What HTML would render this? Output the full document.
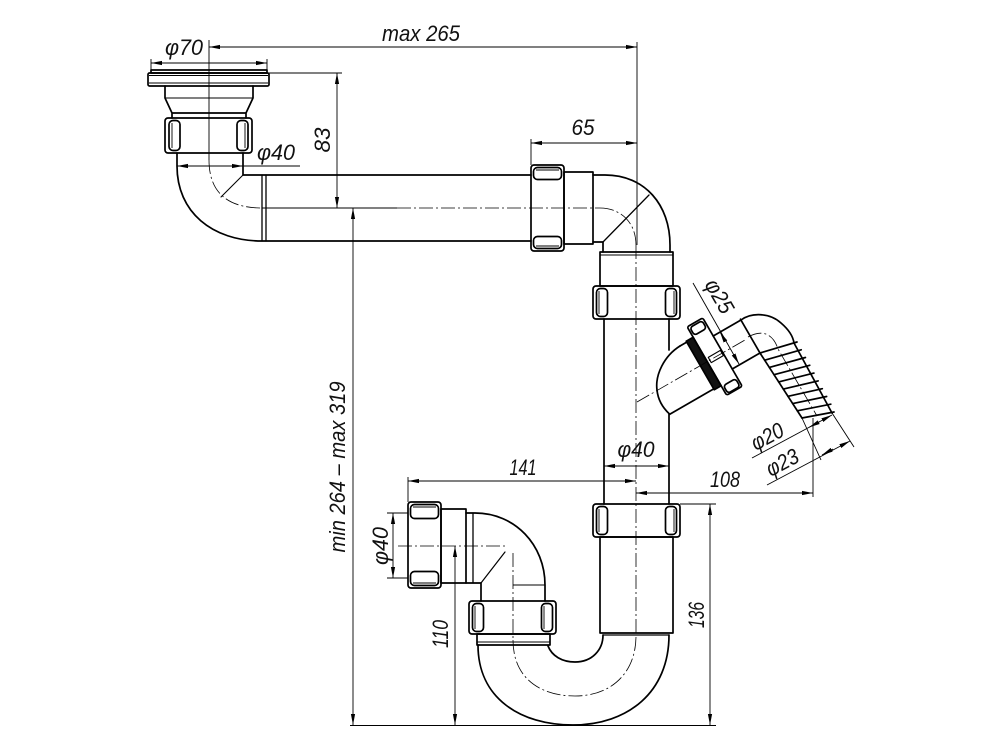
<!DOCTYPE html>
<html><head><meta charset="utf-8"><title>Siphon drawing</title>
<style>
html,body{margin:0;padding:0;background:#fff;width:1000px;height:750px;overflow:hidden}
svg{display:block}
text{font-family:"Liberation Sans",sans-serif;font-style:italic;font-size:22px;fill:#111;stroke:none}
</style></head><body>
<svg width="1000" height="750" viewBox="0 0 1000 750" xmlns="http://www.w3.org/2000/svg">
<defs>
<marker id="a" markerWidth="12" markerHeight="6" refX="11" refY="3" orient="auto-start-reverse" markerUnits="userSpaceOnUse"><path d="M0,0.9 L11,3 L0,5.1 z" fill="#000" stroke="none"/></marker>
</defs>
<rect width="1000" height="750" fill="#fff"/>

<!-- MAIN OUTLINES -->
<g fill="none" stroke="#000" stroke-width="1.7" stroke-linejoin="round" stroke-linecap="round">
<!-- drain flange -->
<rect x="151" y="70" width="116" height="3"/>
<rect x="148" y="73" width="121" height="13" rx="1.5"/>
<path d="M165,86 V98 L172,113 V118 M253,86 V98 L246,113 V118 M172,113 H246"/>
<!-- drain nut -->
<rect x="165" y="118" width="87" height="35" rx="3"/>
<rect x="169" y="120.5" width="11" height="30" rx="4"/>
<rect x="237" y="120.5" width="11" height="30" rx="4"/>
<!-- drain elbow + horizontal pipe -->
<path d="M177,153 V166 C177,212 212,241 262,241 H531"/>
<path d="M243,153 V175 H531"/>
<path d="M262,175 V241 M266,175 V241" stroke-width="1.3"/>
<path d="M243,175 L221,197" stroke-width="1.1"/>
<!-- right nut on horizontal pipe -->
<rect x="531" y="165" width="33" height="86" rx="3"/>
<rect x="533.5" y="167.5" width="28" height="12" rx="4"/>
<rect x="533.5" y="236.5" width="28" height="12" rx="4"/>
<rect x="564" y="172" width="29" height="72"/>
<!-- upper right elbow -->
<path d="M593,175 H605 C645,175 670,205 670,245 V252"/>
<path d="M593,242 H603 V252"/>
<path d="M603,242 L649,195" stroke-width="1.3"/>
<rect x="600" y="252" width="73" height="34"/>
<!-- nut -->
<rect x="593" y="286" width="87" height="33" rx="3"/>
<rect x="596.5" y="288.5" width="11" height="28" rx="4"/>
<rect x="665.5" y="288.5" width="11" height="28" rx="4"/>
<!-- main vertical pipe -->
<path d="M604,319 V504 M669,319 V350 M669,414 V504"/>
<!-- branch cap -->
<path d="M680,346 C664,356 655,375 657,390 C658,400 663,408 669.5,414"/>
<!-- branch in rotated frame -->
<g transform="translate(637,402) rotate(-30)">
 <path d="M65,-27 H73 M22,27 H73"/>
 <rect x="73" y="-28" width="8" height="56" fill="#111"/>
 <rect x="81" y="-40" width="18" height="79" rx="2"/>
 <rect x="83" y="-38" width="14" height="9" rx="3"/>
 <rect x="83" y="29" width="14" height="9" rx="3"/>
 <rect x="84" y="-3" width="14" height="6" stroke-width="1.1"/>
 <path d="M99,-19 H131 M99,19 H131 M131,-20 V20"/>
</g>
<!-- hose elbow -->
<path d="M741,320 C752,312 770,313 781,323 C788,329 793,336 794,343"/>
<path d="M760,353 L802,418 M794,343 L832,413"/>
<g stroke-width="1.7">
<path d="M760,353 L797,342 M764.7,360.2 L801.2,349.8 M769.3,367.4 L805.4,357.5 M774,374.7 L809.7,365.3 M778.7,381.9 L813.9,373.1 M783.3,389.1 L818.1,380.9 M788,396.3 L822.3,388.7 M792.7,403.6 L826.6,396.5 M797.3,410.8 L830.8,404.2 M802,418 L834,412"/>
</g>

<!-- lower nut on main pipe -->
<rect x="593" y="504" width="87" height="33" rx="3"/>
<rect x="596.5" y="506.5" width="11" height="28" rx="4"/>
<rect x="665.5" y="506.5" width="11" height="28" rx="4"/>
<rect x="600" y="537" width="73" height="96"/>
<path d="M603,635 H669" stroke-width="1.2"/>
<!-- U bend -->
<path d="M478,645 C478,698 520,725 573,725 C628,725 669,692 669,635"/>
<path d="M548,646 C552,656 562,662 575,662 C592,662 603,650 603,635"/>
<!-- left leg nut -->
<rect x="469" y="601" width="87" height="33" rx="3"/>
<rect x="472.5" y="603.5" width="11" height="28" rx="4"/>
<rect x="541.5" y="603.5" width="11" height="28" rx="4"/>
<rect x="477" y="634" width="73" height="11"/>
<!-- left elbow -->
<path d="M466,513 H475 C515,513 545,545 545,585 V601"/>
<path d="M466,583 H481 V601"/>
<path d="M473,513 V583" stroke-width="1.3"/>
<path d="M481,583 L505,552" stroke-width="1.2"/>
<rect x="441" y="509" width="25" height="74"/>
<!-- left nut -->
<rect x="408" y="502" width="33" height="86" rx="3"/>
<rect x="410.5" y="504.5" width="28" height="14" rx="4"/>
<rect x="410.5" y="571.5" width="28" height="14" rx="4"/>
</g>

<!-- THIN DETAIL LINES -->
<g fill="none" stroke="#000" stroke-width="0.9">
<path d="M149,75.5 H268 M149,83 H268 M165,98 H253"/>
<path d="M172,123 V148 M245,123 V148"/>
<path d="M536,170 H559 M536,246 H559"/>
<path d="M600,255 H673 M599,291 V314 M674,291 V314 M599,509 V532 M674,509 V532 M475,606 V629 M544,606 V629 M477,642 H550"/>
<path d="M413,507 H436 M413,583 H436"/>
<path d="M513,585 H545"/>
</g>

<!-- CENTERLINES -->
<g fill="none" stroke="#000" stroke-width="0.8" stroke-dasharray="14 3 2 3">
<path d="M397,208 H600"/>
<path d="M600,208 C620,208 636,222 636,245"/>
<path d="M636,245 V634"/>
<path d="M209,160 C209,190 225,208 262,208"/>
<path d="M513,640 C513,678 540,696 575,696 C612,696 636,672 636,636"/>
<path d="M398,546 H505"/>
<path d="M513,553 V640"/>
<path d="M637,402 L745,340"/>
<path d="M748,337 C764,328 774,336 778,349 L817,416"/>
</g>

<!-- DIMENSIONS -->
<g fill="none" stroke="#000" stroke-width="0.9">
<path d="M151,59 V70 M267,59 V70"/>
<line x1="151" y1="63" x2="267" y2="63" marker-start="url(#a)" marker-end="url(#a)"/>
<line x1="209" y1="47" x2="637" y2="47" marker-start="url(#a)" marker-end="url(#a)"/>
<path d="M209,40 V160"/>
<path d="M637,42 V245"/>
<path d="M269,73 H342"/>
<line x1="337" y1="73" x2="337" y2="208" marker-start="url(#a)" marker-end="url(#a)"/>
<path d="M262,208 H397"/>
<line x1="353" y1="208" x2="353" y2="725" marker-start="url(#a)" marker-end="url(#a)"/>
<line x1="177" y1="166" x2="243" y2="166" marker-start="url(#a)" marker-end="url(#a)"/>
<path d="M243,166 H300"/>
<path d="M531,139 V165"/>
<line x1="531" y1="143" x2="637" y2="143" marker-start="url(#a)" marker-end="url(#a)"/>
<path d="M693,283 L739,364" marker-end="url(#a)"/>
<path d="M725.5,341.5 L720,332" marker-end="url(#a)"/>
<line x1="604" y1="466" x2="669" y2="466" marker-start="url(#a)" marker-end="url(#a)"/>
<path d="M408,477 V502"/>
<line x1="408" y1="481" x2="636" y2="481" marker-start="url(#a)" marker-end="url(#a)"/>
<line x1="636" y1="493" x2="813" y2="493" marker-start="url(#a)" marker-end="url(#a)"/>
<path d="M813,418 V497"/>
<path d="M832,413 L854,447 M802,418 L821,460"/>
<path d="M752,458 L832,415" marker-end="url(#a)"/>
<path d="M820,421.5 L809,427.4" marker-end="url(#a)"/>
<path d="M767,485 L850,441" marker-end="url(#a)"/>
<path d="M833,449 L822,455" marker-end="url(#a)"/>
<path d="M387,513 H408 M387,578 H408"/>
<line x1="393" y1="513" x2="393" y2="578" marker-start="url(#a)" marker-end="url(#a)"/>
<line x1="455" y1="546" x2="455" y2="725" marker-start="url(#a)" marker-end="url(#a)"/>
<path d="M680,504 H716"/>
<line x1="710" y1="504" x2="710" y2="725" marker-start="url(#a)" marker-end="url(#a)"/>
<path d="M350,725.5 H716"/>
</g>

<!-- TEXT -->
<text x="184" y="55" text-anchor="middle" textLength="38" lengthAdjust="spacingAndGlyphs">φ70</text>
<text x="421" y="41" text-anchor="middle" textLength="78" lengthAdjust="spacingAndGlyphs">max 265</text>
<text x="276" y="160" text-anchor="middle" textLength="38" lengthAdjust="spacingAndGlyphs">φ40</text>
<text x="583" y="135" text-anchor="middle" textLength="23" lengthAdjust="spacingAndGlyphs">65</text>
<text x="636" y="457" text-anchor="middle" textLength="37" lengthAdjust="spacingAndGlyphs">φ40</text>
<text x="523" y="475" text-anchor="middle" textLength="27" lengthAdjust="spacingAndGlyphs">141</text>
<text x="725" y="487" text-anchor="middle" textLength="30" lengthAdjust="spacingAndGlyphs">108</text>
<g transform="translate(322,140) rotate(-90)"><text x="0" y="8" text-anchor="middle" textLength="25" lengthAdjust="spacingAndGlyphs">83</text></g>
<g transform="translate(337,467) rotate(-90)"><text x="0" y="8" text-anchor="middle" textLength="171" lengthAdjust="spacingAndGlyphs">min 264 – max 319</text></g>
<g transform="translate(380,546) rotate(-90)"><text x="0" y="8" text-anchor="middle" textLength="38" lengthAdjust="spacingAndGlyphs">φ40</text></g>
<g transform="translate(440,634) rotate(-90)"><text x="0" y="8" text-anchor="middle" textLength="28" lengthAdjust="spacingAndGlyphs">110</text></g>
<g transform="translate(696,615) rotate(-90)"><text x="0" y="8" text-anchor="middle" textLength="26" lengthAdjust="spacingAndGlyphs">136</text></g>
<g transform="translate(720,296) rotate(60)"><text x="0" y="8" text-anchor="middle" textLength="36" lengthAdjust="spacingAndGlyphs">φ25</text></g>
<g transform="translate(767,436) rotate(-28)"><text x="0" y="8" text-anchor="middle" textLength="34" lengthAdjust="spacingAndGlyphs">φ20</text></g>
<g transform="translate(782,462) rotate(-28)"><text x="0" y="8" text-anchor="middle" textLength="34" lengthAdjust="spacingAndGlyphs">φ23</text></g>
</svg>
</body></html>
